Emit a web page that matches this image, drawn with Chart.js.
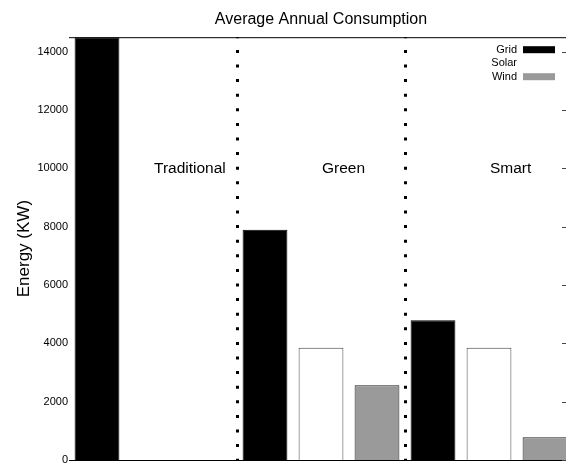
<!DOCTYPE html>
<html>
<head>
<meta charset="utf-8">
<script src="https://cdn.jsdelivr.net/npm/chart.js@4.4.1/dist/chart.umd.min.js"></script>
<style>
  html, body { margin: 0; padding: 0; background: #fff; overflow: hidden; }
  #wrap { width: 566px; height: 464px; overflow: hidden; }
</style>
</head>
<body>
<div id="wrap"><canvas id="id_graph" width="573" height="470"></canvas></div>
<script>
// datos
var categories = ['Traditional', 'Green', 'Smart'];
var gridValues = [14500, 7900, 4790];
var solarValues = [0, 3850, 3850];
var windValues = [0, 2560, 780];
var yTicks = [0, 2000, 4000, 6000, 8000, 10000, 12000, 14000];
var yMax = 14500;
var labelLevel = 10000;

var FONT = '"Liberation Sans", Arial, Helvetica, sans-serif';

// extras estilo gnuplot: borde superior, marcas a la derecha, etiquetas y leyenda
var decorations = {
  id: 'decorations',
  afterDatasetsDraw: function (chart) {
    var ctx = chart.ctx, area = chart.chartArea;
    var x = chart.scales.x, y = chart.scales.y;
    ctx.save();

    ctx.strokeStyle = '#000';
    ctx.lineWidth = 1;
    ctx.beginPath();
    ctx.moveTo(area.left, area.top + 0.5);
    ctx.lineTo(area.right, area.top + 0.5);
    ctx.stroke();

    ctx.strokeStyle = '#444';
    y.ticks.forEach(function (t) {
      var py = Math.round(y.getPixelForValue(t.value)) + 0.5;
      ctx.beginPath();
      ctx.moveTo(area.right - 11, py);
      ctx.lineTo(area.right, py);
      ctx.stroke();
    });

    ctx.fillStyle = '#000';
    ctx.font = '15.5px ' + FONT;
    ctx.textAlign = 'left';
    ctx.textBaseline = 'middle';
    categories.forEach(function (c, i) {
      ctx.fillText(c, x.getPixelForValue(i) + 1, y.getPixelForValue(labelLevel));
    });

    ctx.font = '11px ' + FONT;
    ctx.textAlign = 'right';
    chart.data.datasets.forEach(function (ds, i) {
      var cy = area.top + 12.5 + 13.5 * i;
      ctx.fillStyle = '#000';
      ctx.fillText(ds.label, area.right - 56, cy);
      ctx.fillStyle = ds.legendColor;
      ctx.fillRect(area.right - 50, cy - 3.5, 32, 7);
    });

    ctx.restore();
  }
};

var ctx = document.getElementById('id_graph').getContext('2d');
new Chart(ctx, {
  type: 'bar',
  data: {
    labels: categories,
    datasets: [{
      label: 'Grid',
      data: gridValues,
      backgroundColor: '#000',
      borderColor: '#000',
      borderWidth: 1,
      legendColor: '#000'
    }, {
      label: 'Solar',
      data: solarValues,
      backgroundColor: '#fff',
      borderColor: '#444',
      borderWidth: 1,
      legendColor: '#fff'
    }, {
      label: 'Wind',
      data: windValues,
      backgroundColor: '#9a9a9a',
      borderColor: '#222',
      borderWidth: 1,
      legendColor: '#9a9a9a'
    }]
  },
  options: {
    responsive: false,
    animation: false,
    devicePixelRatio: 1,
    datasets: {
      bar: { categoryPercentage: 1.0, barPercentage: 0.8 }
    },
    layout: { padding: 0 },
    plugins: {
      legend: { display: false },
      tooltip: { enabled: false },
      title: {
        display: true,
        text: 'Average Annual Consumption',
        fullSize: false,
        color: '#000',
        font: { family: FONT, size: 16, weight: 'normal' },
        padding: { top: 10, bottom: 8 }
      }
    },
    scales: {
      x: {
        type: 'category',
        offset: true,
        ticks: { display: false },
        grid: {
          display: true,
          drawTicks: false,
          offset: true,
          lineWidth: 3,
          color: function (c) {
            return (c.index === 1 || c.index === 2) ? '#000' : 'rgba(0,0,0,0)';
          }
        },
        border: { display: true, color: '#000', width: 1, dash: [3, 11.6], dashOffset: 1.9 },
        afterFit: function (scale) { scale.height = 10; }
      },
      y: {
        min: 0,
        max: yMax,
        grid: { display: false, drawTicks: false },
        border: { display: false },
        ticks: {
          padding: 1,
          color: '#000',
          font: { family: FONT, size: 11 },
          callback: function (v) { return String(v); }
        },
        afterBuildTicks: function (scale) {
          scale.ticks = yTicks.map(function (v) { return { value: v }; });
        },
        title: {
          display: true,
          text: 'Energy (KW)',
          color: '#000',
          font: { family: FONT, size: 17 },
          padding: { top: 14, bottom: 0 }
        },
        afterFit: function (scale) { scale.width = 69; }
      }
    }
  },
  plugins: [decorations]
});
</script>
</body>
</html>
